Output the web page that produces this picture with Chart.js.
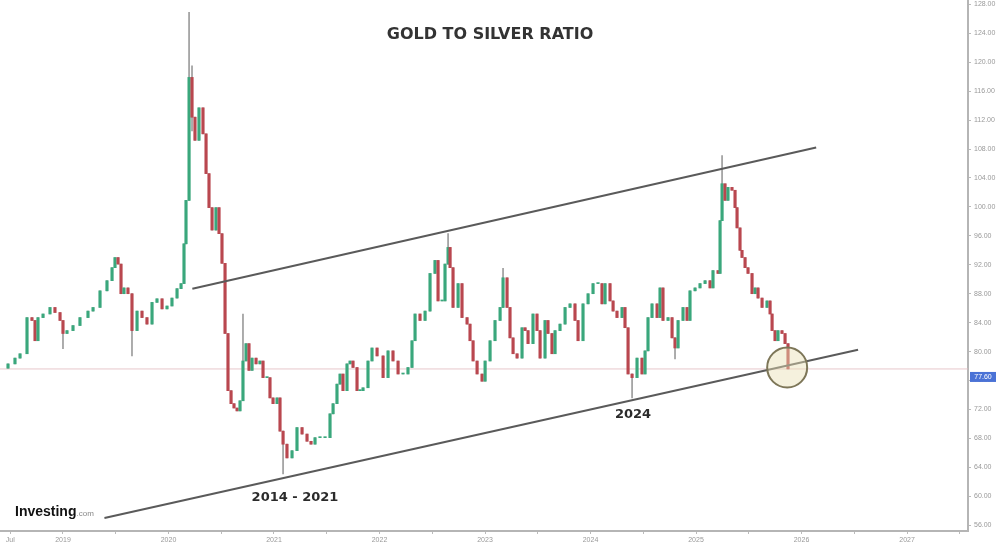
<!DOCTYPE html>
<html>
<head>
<meta charset="utf-8">
<script src="https://cdn.jsdelivr.net/npm/chart.js@4.4.1/dist/chart.umd.min.js"></script>
<style>
  html, body { margin: 0; padding: 0; background: #fff; }
  canvas { display: block; }
</style>
</head>
<body>
<canvas id="ratioChart" width="998" height="552"></canvas>
<script>
// weekly-ish closes of the gold/silver ratio (decimal years)
const dates = [
  2018.479, 2018.545, 2018.593, 2018.659, 2018.706, 2018.735, 2018.763, 2018.811, 2018.877, 2018.924,
  2018.972, 2019.000, 2019.038, 2019.095, 2019.161, 2019.237, 2019.285, 2019.351, 2019.417, 2019.465,
  2019.493, 2019.522, 2019.550, 2019.578, 2019.616, 2019.654, 2019.702, 2019.749, 2019.796, 2019.844,
  2019.891, 2019.939, 2019.986, 2020.033, 2020.081, 2020.119, 2020.147, 2020.166, 2020.195, 2020.223,
  2020.251, 2020.289, 2020.327, 2020.356, 2020.384, 2020.413, 2020.450, 2020.479, 2020.507, 2020.536,
  2020.564, 2020.593, 2020.621, 2020.650, 2020.678, 2020.706, 2020.735, 2020.763, 2020.792, 2020.830,
  2020.867, 2020.896, 2020.934, 2020.962, 2020.991, 2021.029, 2021.057, 2021.086, 2021.123, 2021.171,
  2021.218, 2021.266, 2021.313, 2021.351, 2021.389, 2021.436, 2021.484, 2021.531, 2021.560, 2021.597,
  2021.626, 2021.654, 2021.692, 2021.721, 2021.749, 2021.787, 2021.815, 2021.844, 2021.891, 2021.929,
  2021.977, 2022.034, 2022.081, 2022.128, 2022.176, 2022.223, 2022.270, 2022.308, 2022.337, 2022.384,
  2022.432, 2022.479, 2022.526, 2022.555, 2022.593, 2022.621, 2022.650, 2022.669, 2022.697, 2022.745,
  2022.782, 2022.830, 2022.858, 2022.887, 2022.925, 2022.972, 2023.001, 2023.048, 2023.095, 2023.143,
  2023.171, 2023.209, 2023.237, 2023.266, 2023.304, 2023.351, 2023.380, 2023.408, 2023.455, 2023.493,
  2023.522, 2023.569, 2023.597, 2023.635, 2023.664, 2023.711, 2023.759, 2023.806, 2023.853, 2023.882,
  2023.929, 2023.977, 2024.024, 2024.071, 2024.109, 2024.138, 2024.185, 2024.214, 2024.251, 2024.299,
  2024.327, 2024.356, 2024.394, 2024.441, 2024.488, 2024.517, 2024.545, 2024.583, 2024.631, 2024.659,
  2024.687, 2024.735, 2024.773, 2024.801, 2024.830, 2024.877, 2024.915, 2024.943, 2024.991, 2025.038,
  2025.086, 2025.133, 2025.161, 2025.209, 2025.228, 2025.247, 2025.275, 2025.303, 2025.341, 2025.370,
  2025.389, 2025.417, 2025.436, 2025.465, 2025.493, 2025.531, 2025.560, 2025.588, 2025.626, 2025.673,
  2025.702, 2025.721, 2025.749, 2025.777, 2025.815, 2025.844, 2025.872
];
const closes = [
  78.3, 79.1, 79.7, 84.7, 84.3, 81.5, 84.7, 85.2, 86.1, 85.4,
  84.3, 82.5, 82.9, 83.6, 84.7, 85.6, 86.1, 88.4, 89.8, 91.6,
  93.0, 92.1, 88.0, 88.8, 88.0, 82.9, 85.6, 84.7, 83.8, 86.8,
  87.3, 85.9, 86.3, 87.4, 88.7, 89.4, 94.9, 100.9, 117.9, 112.4,
  109.2, 113.7, 110.1, 104.6, 99.9, 96.8, 99.9, 96.3, 92.2, 82.5,
  74.6, 72.8, 72.2, 71.8, 73.2, 78.7, 81.1, 77.4, 79.1, 78.3,
  78.7, 76.4, 76.4, 73.6, 72.8, 73.6, 69.0, 67.2, 65.3, 66.3,
  69.5, 68.6, 67.6, 67.2, 68.1, 68.1, 68.1, 71.4, 72.8, 75.5,
  76.9, 74.6, 78.3, 78.7, 77.8, 74.6, 74.6, 75.0, 78.7, 80.5,
  79.4, 76.4, 80.1, 78.7, 76.9, 76.9, 77.8, 81.5, 85.2, 84.3,
  85.6, 90.8, 92.6, 87.0, 87.0, 92.1, 94.4, 91.6, 86.1, 89.4,
  84.7, 83.8, 81.5, 78.7, 76.9, 75.9, 78.7, 81.5, 84.3, 86.1,
  90.2, 86.1, 81.9, 79.7, 79.1, 83.3, 82.9, 81.1, 85.2, 82.9,
  79.1, 84.3, 82.5, 79.7, 82.9, 83.8, 86.1, 86.6, 84.3, 81.5,
  86.6, 88.0, 89.4, 89.4, 86.6, 89.4, 87.0, 85.6, 84.7, 86.1,
  83.3, 76.9, 76.4, 79.1, 76.9, 80.1, 84.7, 86.6, 84.7, 88.8,
  84.3, 84.7, 81.9, 80.5, 84.3, 86.1, 84.3, 88.4, 88.8, 89.4,
  89.8, 88.8, 91.2, 90.8, 98.1, 103.2, 100.9, 102.7, 102.3, 99.9,
  97.1, 94.0, 93.0, 91.6, 90.8, 88.0, 88.8, 87.4, 86.1, 87.0,
  85.2, 82.9, 81.5, 82.9, 82.5, 81.1, 77.6
];
// long shadows that stand out: [date, low, high]
const wicks = [
  [2019.000, 80.4, 83.0], [2019.654, 79.4, 88.0], [2020.195, 100.9, 126.9],
  [2020.223, 110.5, 119.5], [2020.706, 73.2, 85.2], [2021.086, 63.1, 69.0],
  [2022.650, 92.1, 96.3], [2023.171, 86.1, 91.5], [2024.394, 73.6, 76.9],
  [2024.801, 79.0, 81.9], [2025.247, 98.1, 107.1]
];

const xTicks = [2018.5, 2019, 2019.5, 2020, 2020.5, 2021, 2021.5, 2022, 2022.5,
  2023, 2023.5, 2024, 2024.5, 2025, 2025.5, 2026, 2026.5, 2027, 2027.5];
const yTicks = [56, 60, 64, 68, 72, 76, 80, 84, 88, 92, 96, 100, 104, 108, 112, 116, 120, 124, 128];

const upperTrend = [[2020.226, 88.7], [2026.139, 108.2]];
const lowerTrend = [[2019.393, 57.0], [2026.536, 80.25]];
const lastPrice = 77.6;
const circleAt = [2025.864, 77.8];

const title = "GOLD TO SILVER RATIO";
const notes = [
  { text: "2024", x: 2024.403, y: 71.3 },
  { text: "2014 - 2021", x: 2021.199, y: 59.8 }
];

// build candles: open is the previous close
const bodies = [];
const shadows = [];
const bodyColors = [];
closes.forEach((c, i) => {
  const o = i === 0 ? c - 0.6 : closes[i - 1];
  bodies.push({ x: dates[i], y: [o, c] });
  bodyColors.push(c >= o ? "#3aa77c" : "#b9474f");
  shadows.push({ x: dates[i], y: [Math.min(o, c), Math.max(o, c)] });
});
wicks.forEach(([d, lo, hi]) => {
  shadows.push({ x: d, y: [lo, hi] });
});

const overlay = {
  id: "overlay",
  afterDraw(chart) {
    const { ctx, scales: { x, y } } = chart;
    ctx.save();
    ctx.textAlign = "center";
    ctx.textBaseline = "middle";
    ctx.fillStyle = "#333";
    ctx.font = 'bold 16px "DejaVu Sans"';
    ctx.fillText(title, 490, 35);

    ctx.font = 'bold 13px "DejaVu Sans"';
    ctx.fillStyle = "#2b2b2b";
    notes.forEach((n) => ctx.fillText(n.text, x.getPixelForValue(n.x), y.getPixelForValue(n.y)));

    // investing.com mark
    ctx.textAlign = "left";
    ctx.font = 'bold 14px "Liberation Sans"';
    ctx.fillStyle = "#111";
    ctx.fillText("Investing", 15, 512);
    const w = ctx.measureText("Investing").width;
    ctx.font = '8px "Liberation Sans"';
    ctx.fillStyle = "#888";
    ctx.fillText(".com", 15 + w, 514);

    // last price tag on the axis
    const py = y.getPixelForValue(lastPrice) + 8;
    ctx.fillStyle = "#4a72d6";
    ctx.fillRect(970, py - 5, 26, 10);
    ctx.fillStyle = "#fff";
    ctx.font = '7px "Liberation Sans"';
    ctx.textAlign = "center";
    ctx.fillText(lastPrice.toFixed(2), 983, py);
    ctx.restore();
  }
};

new Chart(document.getElementById("ratioChart"), {
  type: "bar",
  data: {
    datasets: [
      {
        type: "bubble",
        data: [{ x: circleAt[0], y: circleAt[1], r: 20 }],
        backgroundColor: "rgba(232, 224, 180, 0.45)",
        borderColor: "#7d7658",
        borderWidth: 2,
        order: 0
      },
      {
        type: "line",
        data: upperTrend.map(([a, b]) => ({ x: a, y: b })),
        borderColor: "#5a5a5a",
        borderWidth: 2,
        pointRadius: 0,
        order: 1
      },
      {
        type: "line",
        data: lowerTrend.map(([a, b]) => ({ x: a, y: b })),
        borderColor: "#5a5a5a",
        borderWidth: 2,
        pointRadius: 0,
        order: 1
      },
      {
        data: bodies,
        backgroundColor: bodyColors,
        barThickness: 2.5,
        minBarLength: 1,
        grouped: false,
        order: 2
      },
      {
        data: shadows,
        backgroundColor: "#9c9c9c",
        barThickness: 1,
        grouped: false,
        order: 3
      },
      {
        type: "line",
        data: [{ x: 2018.403, y: lastPrice }, { x: 2027.578, y: lastPrice }],
        borderColor: "rgba(225, 185, 190, 0.8)",
        borderWidth: 1,
        pointRadius: 0,
        order: 4
      }
    ]
  },
  options: {
    responsive: false,
    animation: false,
    layout: { padding: 0, autoPadding: false },
    plugins: { legend: { display: false }, tooltip: { enabled: false } },
    scales: {
      x: {
        type: "linear",
        offset: false,
        min: 2018.403,
        max: 2027.578,
        afterBuildTicks: (s) => { s.ticks = xTicks.map((v) => ({ value: v })); },
        afterFit: (s) => { s.height = 21; s.paddingLeft = 0; s.paddingRight = 0; },
        ticks: {
          autoSkip: false,
          maxRotation: 0,
          padding: 2,
          color: "#999",
          font: { family: "Liberation Sans", size: 7 },
          callback: (v) => (v === 2018.5 ? "Jul" : Number.isInteger(v) ? String(v) : "")
        },
        grid: { offset: false, drawOnChartArea: false, tickLength: 3, color: "#bbb" },
        border: { color: "#b5b5b5", width: 2 }
      },
      y: {
        position: "right",
        min: 55.2,
        max: 128.6,
        afterBuildTicks: (s) => { s.ticks = yTicks.map((v) => ({ value: v })); },
        afterFit: (s) => { s.width = 30; s.paddingTop = 0; s.paddingBottom = 0; },
        ticks: {
          padding: 3,
          color: "#999",
          font: { family: "Liberation Sans", size: 7 },
          callback: (v) => v.toFixed(2)
        },
        grid: { drawOnChartArea: false, tickLength: 3, color: "#bbb" },
        border: { color: "#b5b5b5", width: 2 }
      }
    }
  },
  plugins: [overlay]
});
</script>
</body>
</html>
